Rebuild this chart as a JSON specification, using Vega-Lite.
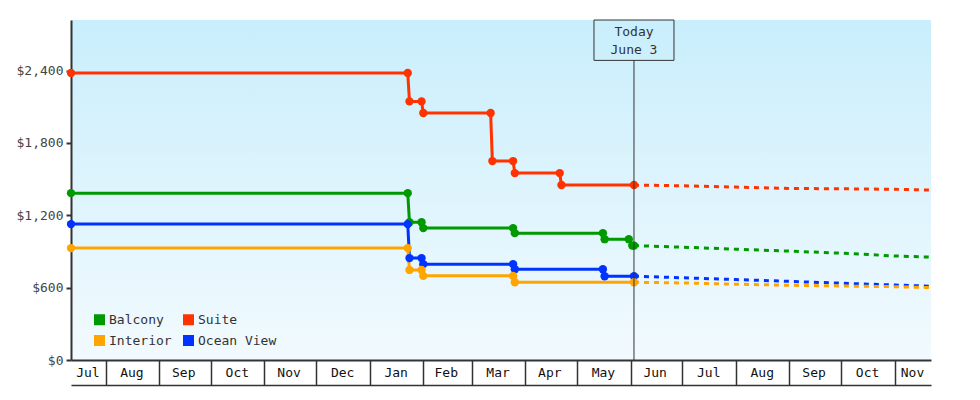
{
  "$schema": "https://vega.github.io/schema/vega-lite/v6.json",
  "width": 860,
  "height": 340,
  "autosize": {"type": "none"},
  "padding": {"left": 71, "top": 20, "right": 49, "bottom": 40},
  "background": "white",
  "config": {
    "font": "DejaVu Sans Mono",
    "view": {
      "stroke": null,
      "fill": {
        "gradient": "linear",
        "x1": 0, "y1": 0, "x2": 0, "y2": 1,
        "stops": [
          {"offset": 0, "color": "#c9eefc"},
          {"offset": 1, "color": "#f2fafe"}
        ]
      }
    }
  },
  "datasets": {
    "prices": [
      {"cabin": "Suite", "kind": "actual", "date": "2014-07-12", "price": 2381},
      {"cabin": "Suite", "kind": "actual", "date": "2015-01-23", "price": 2381},
      {"cabin": "Suite", "kind": "actual", "date": "2015-01-24", "price": 2145},
      {"cabin": "Suite", "kind": "actual", "date": "2015-01-31", "price": 2145},
      {"cabin": "Suite", "kind": "actual", "date": "2015-02-01", "price": 2049},
      {"cabin": "Suite", "kind": "actual", "date": "2015-03-12", "price": 2049},
      {"cabin": "Suite", "kind": "actual", "date": "2015-03-13", "price": 1650},
      {"cabin": "Suite", "kind": "actual", "date": "2015-03-25", "price": 1650},
      {"cabin": "Suite", "kind": "actual", "date": "2015-03-26", "price": 1550},
      {"cabin": "Suite", "kind": "actual", "date": "2015-04-21", "price": 1550},
      {"cabin": "Suite", "kind": "actual", "date": "2015-04-22", "price": 1451},
      {"cabin": "Suite", "kind": "actual", "date": "2015-06-03", "price": 1451},
      {"cabin": "Balcony", "kind": "actual", "date": "2014-07-12", "price": 1384},
      {"cabin": "Balcony", "kind": "actual", "date": "2015-01-23", "price": 1384},
      {"cabin": "Balcony", "kind": "actual", "date": "2015-01-24", "price": 1143},
      {"cabin": "Balcony", "kind": "actual", "date": "2015-01-31", "price": 1143},
      {"cabin": "Balcony", "kind": "actual", "date": "2015-02-01", "price": 1094},
      {"cabin": "Balcony", "kind": "actual", "date": "2015-03-25", "price": 1094},
      {"cabin": "Balcony", "kind": "actual", "date": "2015-03-26", "price": 1052},
      {"cabin": "Balcony", "kind": "actual", "date": "2015-05-16", "price": 1052},
      {"cabin": "Balcony", "kind": "actual", "date": "2015-05-17", "price": 1002},
      {"cabin": "Balcony", "kind": "actual", "date": "2015-05-31", "price": 1002},
      {"cabin": "Balcony", "kind": "actual", "date": "2015-06-02", "price": 949},
      {"cabin": "Balcony", "kind": "actual", "date": "2015-06-03", "price": 949},
      {"cabin": "Ocean View", "kind": "actual", "date": "2014-07-12", "price": 1127},
      {"cabin": "Ocean View", "kind": "actual", "date": "2015-01-23", "price": 1127},
      {"cabin": "Ocean View", "kind": "actual", "date": "2015-01-24", "price": 845},
      {"cabin": "Ocean View", "kind": "actual", "date": "2015-01-31", "price": 845},
      {"cabin": "Ocean View", "kind": "actual", "date": "2015-02-01", "price": 795},
      {"cabin": "Ocean View", "kind": "actual", "date": "2015-03-25", "price": 795},
      {"cabin": "Ocean View", "kind": "actual", "date": "2015-03-26", "price": 753},
      {"cabin": "Ocean View", "kind": "actual", "date": "2015-05-16", "price": 753},
      {"cabin": "Ocean View", "kind": "actual", "date": "2015-05-17", "price": 695},
      {"cabin": "Ocean View", "kind": "actual", "date": "2015-06-03", "price": 695},
      {"cabin": "Interior", "kind": "actual", "date": "2014-07-12", "price": 928},
      {"cabin": "Interior", "kind": "actual", "date": "2015-01-23", "price": 928},
      {"cabin": "Interior", "kind": "actual", "date": "2015-01-24", "price": 747},
      {"cabin": "Interior", "kind": "actual", "date": "2015-01-31", "price": 747},
      {"cabin": "Interior", "kind": "actual", "date": "2015-02-01", "price": 698},
      {"cabin": "Interior", "kind": "actual", "date": "2015-03-25", "price": 698},
      {"cabin": "Interior", "kind": "actual", "date": "2015-03-26", "price": 645},
      {"cabin": "Interior", "kind": "actual", "date": "2015-06-03", "price": 645},
      {"cabin": "Suite", "kind": "forecast", "date": "2015-06-03", "price": 1451},
      {"cabin": "Suite", "kind": "forecast", "date": "2015-07-01", "price": 1445},
      {"cabin": "Suite", "kind": "forecast", "date": "2015-08-01", "price": 1434},
      {"cabin": "Suite", "kind": "forecast", "date": "2015-09-01", "price": 1423},
      {"cabin": "Suite", "kind": "forecast", "date": "2015-10-01", "price": 1420},
      {"cabin": "Suite", "kind": "forecast", "date": "2015-11-01", "price": 1416},
      {"cabin": "Suite", "kind": "forecast", "date": "2015-11-22", "price": 1409},
      {"cabin": "Balcony", "kind": "forecast", "date": "2015-06-03", "price": 949},
      {"cabin": "Balcony", "kind": "forecast", "date": "2015-07-01", "price": 936},
      {"cabin": "Balcony", "kind": "forecast", "date": "2015-08-01", "price": 919},
      {"cabin": "Balcony", "kind": "forecast", "date": "2015-09-01", "price": 903},
      {"cabin": "Balcony", "kind": "forecast", "date": "2015-10-01", "price": 886},
      {"cabin": "Balcony", "kind": "forecast", "date": "2015-11-01", "price": 863},
      {"cabin": "Balcony", "kind": "forecast", "date": "2015-11-22", "price": 853},
      {"cabin": "Ocean View", "kind": "forecast", "date": "2015-06-03", "price": 695},
      {"cabin": "Ocean View", "kind": "forecast", "date": "2015-07-01", "price": 682},
      {"cabin": "Ocean View", "kind": "forecast", "date": "2015-08-01", "price": 667},
      {"cabin": "Ocean View", "kind": "forecast", "date": "2015-09-01", "price": 652},
      {"cabin": "Ocean View", "kind": "forecast", "date": "2015-10-01", "price": 637},
      {"cabin": "Ocean View", "kind": "forecast", "date": "2015-11-01", "price": 622},
      {"cabin": "Ocean View", "kind": "forecast", "date": "2015-11-22", "price": 612},
      {"cabin": "Interior", "kind": "forecast", "date": "2015-06-03", "price": 645},
      {"cabin": "Interior", "kind": "forecast", "date": "2015-07-01", "price": 639},
      {"cabin": "Interior", "kind": "forecast", "date": "2015-08-01", "price": 629},
      {"cabin": "Interior", "kind": "forecast", "date": "2015-09-01", "price": 620},
      {"cabin": "Interior", "kind": "forecast", "date": "2015-10-01", "price": 614},
      {"cabin": "Interior", "kind": "forecast", "date": "2015-11-01", "price": 608},
      {"cabin": "Interior", "kind": "forecast", "date": "2015-11-22", "price": 600}
    ]
  },
  "resolve": {"axis": {"x": "independent"}},
  "layer": [
    {
      "data": {"name": "prices"},
      "transform": [{"filter": "datum.kind == 'actual'"}],
      "mark": {"type": "line", "strokeWidth": 3},
      "encoding": {
        "x": {
          "field": "date",
          "type": "temporal",
          "scale": {
            "type": "utc",
            "padding": 0,
            "domain": [
              {"year": 2014, "month": 7, "date": 12, "utc": true},
              {"year": 2015, "month": 11, "date": 22, "utc": true}
            ]
          },
          "axis": {
            "orient": "bottom",
            "title": null,
            "grid": false,
            "ticks": false,
            "format": "%b",
            "values": [
              {"year": 2014, "month": 7, "date": 21, "hours": 12, "utc": true},
              {"year": 2014, "month": 8, "date": 16, "utc": true},
              {"year": 2014, "month": 9, "date": 15, "utc": true},
              {"year": 2014, "month": 10, "date": 16, "utc": true},
              {"year": 2014, "month": 11, "date": 15, "utc": true},
              {"year": 2014, "month": 12, "date": 16, "utc": true},
              {"year": 2015, "month": 1, "date": 16, "utc": true},
              {"year": 2015, "month": 2, "date": 14, "utc": true},
              {"year": 2015, "month": 3, "date": 16, "utc": true},
              {"year": 2015, "month": 4, "date": 15, "utc": true},
              {"year": 2015, "month": 5, "date": 16, "utc": true},
              {"year": 2015, "month": 6, "date": 15, "utc": true},
              {"year": 2015, "month": 7, "date": 16, "utc": true},
              {"year": 2015, "month": 8, "date": 16, "utc": true},
              {"year": 2015, "month": 9, "date": 15, "utc": true},
              {"year": 2015, "month": 10, "date": 16, "utc": true},
              {"year": 2015, "month": 11, "date": 11, "utc": true}
            ],
            "labelFont": "DejaVu Sans Mono",
            "labelFontSize": 13,
            "labelColor": "#111",
            "labelBaseline": "middle",
            "labelPadding": 12.5,
            "labelOverlap": false,
            "labelFlush": false,
            "labelBound": false,
            "domainColor": "#333",
            "domainWidth": 2
          }
        },
        "y": {
          "field": "price",
          "type": "quantitative",
          "scale": {"domain": [0, 2820], "nice": false},
          "axis": {
            "values": [0, 600, 1200, 1800, 2400],
            "labelExpr": "'$' + format(datum.value, ',')",
            "title": null,
            "grid": false,
            "labelFont": "DejaVu Sans Mono",
            "labelFontSize": 13,
            "labelColor": "#444",
            "labelPadding": 3,
            "domainColor": "#333",
            "domainWidth": 2,
            "tickColor": "#333",
            "tickWidth": 2,
            "tickSize": 5
          }
        },
        "color": {
          "field": "cabin",
          "type": "nominal",
          "scale": {
            "domain": ["Balcony", "Suite", "Interior", "Ocean View"],
            "range": ["#009900", "#ff3300", "#ffa500", "#0033ff"]
          },
          "legend": {
            "title": null,
            "orient": "none",
            "direction": "horizontal",
            "legendX": 22,
            "legendY": 293,
            "columns": 2,
            "columnPadding": 10,
            "rowPadding": 7,
            "symbolType": "square",
            "symbolSize": 121,
            "symbolStrokeWidth": 0,
            "labelFont": "DejaVu Sans Mono",
            "labelFontSize": 13,
            "labelColor": "#333",
            "labelOffset": 3
          }
        }
      }
    },
    {
      "data": {"name": "prices"},
      "transform": [{"filter": "datum.kind == 'forecast'"}],
      "mark": {"type": "line", "strokeWidth": 3, "strokeDash": [5, 5]},
      "encoding": {
        "x": {
          "field": "date",
          "type": "temporal",
          "axis": {
            "orient": "bottom",
            "offset": 25,
            "title": null,
            "grid": false,
            "labels": false,
            "values": [
              {"year": 2014, "month": 8, "date": 1, "utc": true},
              {"year": 2014, "month": 9, "date": 1, "utc": true},
              {"year": 2014, "month": 10, "date": 1, "utc": true},
              {"year": 2014, "month": 11, "date": 1, "utc": true},
              {"year": 2014, "month": 12, "date": 1, "utc": true},
              {"year": 2015, "month": 1, "date": 1, "utc": true},
              {"year": 2015, "month": 2, "date": 1, "utc": true},
              {"year": 2015, "month": 3, "date": 1, "utc": true},
              {"year": 2015, "month": 4, "date": 1, "utc": true},
              {"year": 2015, "month": 5, "date": 1, "utc": true},
              {"year": 2015, "month": 6, "date": 1, "utc": true},
              {"year": 2015, "month": 7, "date": 1, "utc": true},
              {"year": 2015, "month": 8, "date": 1, "utc": true},
              {"year": 2015, "month": 9, "date": 1, "utc": true},
              {"year": 2015, "month": 10, "date": 1, "utc": true},
              {"year": 2015, "month": 11, "date": 1, "utc": true}
            ],
            "tickSize": -25,
            "tickColor": "#333",
            "tickWidth": 1.5,
            "domainColor": "#333",
            "domainWidth": 1.5
          }
        },
        "y": {"field": "price", "type": "quantitative"},
        "color": {"field": "cabin", "type": "nominal", "legend": null}
      }
    },
    {
      "data": {"name": "prices"},
      "transform": [{"filter": "datum.kind == 'actual'"}],
      "mark": {"type": "point", "shape": "circle", "size": 70, "filled": true, "opacity": 1, "clip": false},
      "encoding": {
        "x": {"field": "date", "type": "temporal", "axis": null},
        "y": {"field": "price", "type": "quantitative"},
        "color": {"field": "cabin", "type": "nominal", "legend": null}
      }
    },
    {
      "data": {"values": [{"date": "2015-06-03", "base": 0, "top": 2485}]},
      "mark": {"type": "rule", "color": "#333", "strokeWidth": 1},
      "encoding": {
        "x": {"field": "date", "type": "temporal", "axis": null},
        "y": {"field": "base", "type": "quantitative"},
        "y2": {"field": "top"}
      }
    },
    {
      "data": {"values": [{"date": "2015-06-03", "top": 2820, "bottom": 2485}]},
      "mark": {"type": "bar", "width": 80, "fill": "transparent", "stroke": "#333", "strokeWidth": 1},
      "encoding": {
        "x": {"field": "date", "type": "temporal", "axis": null},
        "y": {"field": "bottom", "type": "quantitative"},
        "y2": {"field": "top"}
      }
    },
    {
      "data": {"values": [{"date": "2015-06-03", "first": 2719, "label": ["Today", "June 3"]}]},
      "mark": {"type": "text", "lineHeight": 18, "fontSize": 13, "font": "DejaVu Sans Mono", "color": "#333", "baseline": "middle", "align": "center"},
      "encoding": {
        "x": {"field": "date", "type": "temporal", "axis": null},
        "y": {"field": "first", "type": "quantitative"},
        "text": {"field": "label"}
      }
    }
  ]
}
